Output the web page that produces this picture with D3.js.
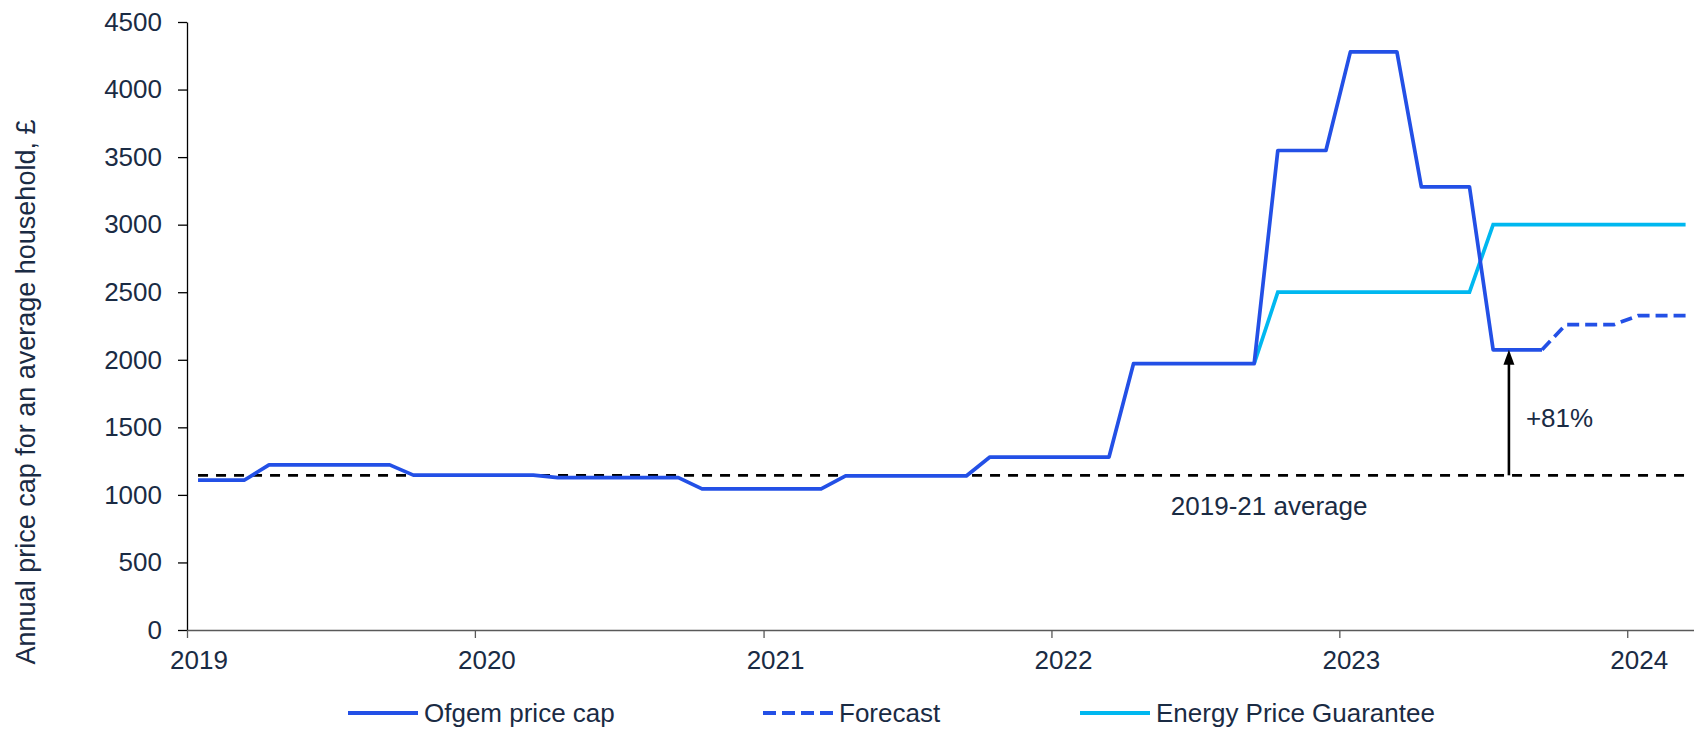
<!DOCTYPE html>
<html>
  <head>
    <meta charset="UTF-8" />
    <script src="https://d3js.org/d3.v7.min.js"></script>
    <style>
      body { margin: 0; background: #fff; }
      text { font-family: "Liberation Sans", Arial, sans-serif; fill: #1a2b44; }
    </style>
  </head>
  <body>
    <div id="chart"></div>
    <script>
      // valeurs (£ par an, un point par mois)
      const ofgemMonths = d3.timeMonth.range(new Date(2019, 0, 1), new Date(2023, 9, 1));
      const ofgemValues = [
        1110, 1110, 1110, 1222, 1222, 1222, 1222, 1222, 1222, 1146, 1146, 1146,   // 2019
        1146, 1146, 1146, 1128, 1128, 1128, 1128, 1128, 1128, 1045, 1045, 1045,   // 2020
        1045, 1045, 1045, 1140, 1140, 1140, 1140, 1140, 1140, 1280, 1280, 1280,   // 2021
        1280, 1280, 1280, 1971, 1971, 1971, 1971, 1971, 1971, 3549, 3549, 3549,   // 2022
        4279, 4279, 4279, 3280, 3280, 3280, 2074, 2074, 2074                      // 2023
      ];

      const forecastMonths = d3.timeMonth.range(new Date(2023, 8, 1), new Date(2024, 3, 1));
      const forecastValues = [2074, 2260, 2260, 2260, 2327, 2327, 2327];

      const epgMonths = d3.timeMonth.range(new Date(2022, 8, 1), new Date(2024, 3, 1));
      const epgValues = [
        1971, 2500, 2500, 2500, 2500, 2500, 2500, 2500, 2500, 2500,
        3000, 3000, 3000, 3000, 3000, 3000, 3000, 3000, 3000, 3000
      ];

      const average2019_21 = 1145;
      const yTicks = [0, 500, 1000, 1500, 2000, 2500, 3000, 3500, 4000, 4500];
      const yLabel = "Annual price cap for an average household, £";
      const legendLabels = ["Ofgem price cap", "Forecast", "Energy Price Guarantee"];

      const blue = "#2350e6", cyan = "#00b8f0";
      const width = 1694, height = 729;

      const svg = d3.select("#chart").append("svg")
        .attr("width", width)
        .attr("height", height);

      // un point au milieu de chaque mois (comme dans Excel)
      const mid = (d) => d3.timeDay.offset(d, 14);

      const x = d3.scaleTime()
        .domain([new Date(2019, 0, 1), new Date(2024, 3, 1)])
        .range([187, 1699]);
      const y = d3.scaleLinear().domain([0, 4500]).range([630, 22]);

      // axe Y
      const yAxis = svg.append("g")
        .attr("transform", "translate(187,0)")
        .call(d3.axisLeft(y).tickValues(yTicks).tickFormat(d3.format("d"))
          .tickSize(9).tickSizeOuter(0).tickPadding(16));
      yAxis.select(".domain").attr("stroke", "#000").attr("stroke-width", 1.3);
      yAxis.selectAll(".tick line").attr("stroke", "#000").attr("stroke-width", 1.3);
      yAxis.selectAll("text").style("font-size", "26px").attr("fill", "#1a2b44")
        .attr("font-family", "Liberation Sans, Arial, sans-serif");

      // axe X
      const xAxis = svg.append("g")
        .attr("transform", "translate(0,630)")
        .call(d3.axisBottom(x).ticks(d3.timeYear.every(1)).tickFormat(d3.timeFormat("%Y"))
          .tickSize(8).tickSizeOuter(0).tickPadding(13));
      xAxis.select(".domain").attr("stroke", "#595959").attr("stroke-width", 1.3);
      xAxis.selectAll(".tick line").attr("stroke", "#595959").attr("stroke-width", 1.3);
      xAxis.selectAll("text").style("font-size", "26px").attr("fill", "#1a2b44")
        .attr("font-family", "Liberation Sans, Arial, sans-serif")
        .attr("x", 11.5);

      svg.append("text")
        .attr("transform", "translate(35," + 392 + ") rotate(-90)")
        .attr("text-anchor", "middle")
        .style("font-size", "27px")
        .text(yLabel);

      const line = d3.line()
        .x((d) => x(mid(d[0])))
        .y((d) => y(d[1]));

      // moyenne 2019-21
      svg.append("line")
        .attr("x1", x(mid(ofgemMonths[0])))
        .attr("x2", x(mid(forecastMonths[forecastMonths.length - 1])))
        .attr("y1", y(average2019_21))
        .attr("y2", y(average2019_21))
        .attr("stroke", "#000")
        .attr("stroke-width", 2.7)
        .attr("stroke-dasharray", "10,8");

      svg.append("path")
        .datum(d3.zip(epgMonths, epgValues))
        .attr("d", line)
        .attr("fill", "none")
        .attr("stroke", cyan)
        .attr("stroke-width", 3.7);

      svg.append("path")
        .datum(d3.zip(forecastMonths, forecastValues))
        .attr("d", line)
        .attr("fill", "none")
        .attr("stroke", blue)
        .attr("stroke-width", 3.7)
        .attr("stroke-dasharray", "12,6");

      svg.append("path")
        .datum(d3.zip(ofgemMonths, ofgemValues))
        .attr("d", line)
        .attr("fill", "none")
        .attr("stroke", blue)
        .attr("stroke-width", 3.7)
        .attr("stroke-linejoin", "round");

      // fleche +81%
      const arrowDate = new Date(2023, 7, 4);
      const ax = x(arrowDate);
      const yTop = y(ofgemValues[ofgemValues.length - 1]);
      const yBase = y(average2019_21);
      svg.append("line")
        .attr("x1", ax).attr("x2", ax)
        .attr("y1", yBase).attr("y2", yTop + 12)
        .attr("stroke", "#000")
        .attr("stroke-width", 2.6);
      svg.append("path")
        .attr("d", "M" + ax + "," + yTop + "L" + (ax - 5.5) + "," + (yTop + 15) + "L" + (ax + 5.5) + "," + (yTop + 15) + "Z")
        .attr("fill", "#000");
      svg.append("text")
        .attr("x", ax + 17)
        .attr("y", (yBase + yTop) / 2 + 14)
        .style("font-size", "26px")
        .text("+" + Math.round((ofgemValues[ofgemValues.length - 1] / average2019_21 - 1) * 100) + "%");

      svg.append("text")
        .attr("x", x(new Date(2022, 9, 4)))
        .attr("y", yBase + 40)
        .attr("text-anchor", "middle")
        .style("font-size", "26px")
        .text("2019-21 average");

      // legende
      const legendX = [348, 763, 1080];
      const legend = svg.append("g").attr("transform", "translate(0,713)");
      legendLabels.forEach((label, i) => {
        legend.append("line")
          .attr("x1", legendX[i]).attr("x2", legendX[i] + 70)
          .attr("y1", 0).attr("y2", 0)
          .attr("stroke", i == 2 ? cyan : blue)
          .attr("stroke-width", 4)
          .attr("stroke-dasharray", i == 1 ? "13,6" : null);
        legend.append("text")
          .attr("x", legendX[i] + 76)
          .attr("y", 9)
          .style("font-size", "26px")
          .text(label);
      });
    </script>
  </body>
</html>
